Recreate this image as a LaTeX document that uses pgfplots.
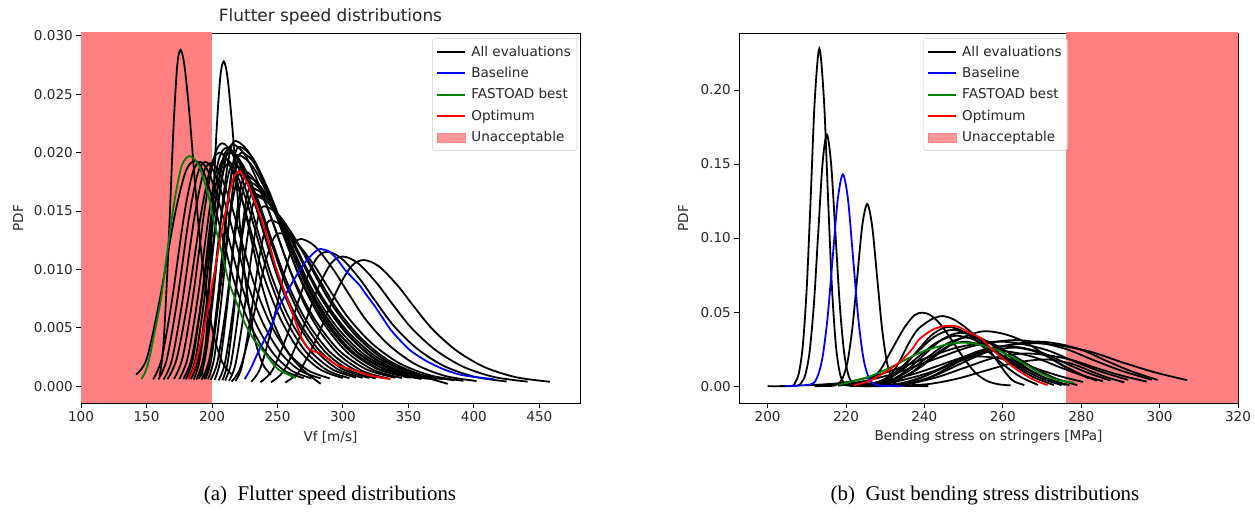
\documentclass[border=0pt]{standalone}
\usepackage{pgfplots}
\pgfplotsset{compat=1.18}
\usepackage{fontspec}
\setmainfont{DejaVu Sans}
\newfontfamily\capfont{Liberation Serif}
\definecolor{spanred}{RGB}{255,128,128}
\definecolor{mgreen}{RGB}{0,128,0}
\newcommand{\mplfont}{\fontsize{13.6}{16}\selectfont}
\pgfplotsset{
  pdfax/.style={
    scale only axis, width=499bp, height=370bp,
    axis line style={black, line width=0.9bp},
    tick pos=left, tick align=outside,
    major tick length=4.7bp,
    every tick/.style={black, line width=0.9bp},
    tick label style={font=\mplfont, text=black!85},
    /pgf/number format/assume math mode=true,
    scaled ticks=false,
    label style={font=\mplfont, text=black!85},
    legend style={font=\mplfont, text=black!85, draw=black!20, rounded corners=3bp, fill=white, fill opacity=0.8, text opacity=1, draw opacity=1, inner xsep=4bp, inner ysep=5.5bp, row sep=5.6bp, cells={anchor=west}, /tikz/every odd column/.append style={column sep=3bp}},
    legend cell align=left,
    legend image code/.code={\draw[##1, line width=2bp, sharp corners] (0bp,0bp) -- (28bp,0bp);},
    xlabel style={at={(axis description cs:0.5,-0.092)}, anchor=center},
    ylabel style={anchor=center},
  },
  ev/.style={black, line width=1.8bp, smooth, tension=0.5, forget plot},
}
\begin{document}
\begin{tikzpicture}
\path[use as bounding box] (0,0) rectangle (1255bp,515bp);
% ---------------- left panel ----------------
\begin{axis}[pdfax, at={(81bp,112bp)}, anchor=south west,
  xmin=100, xmax=481, ymin=-0.00144, ymax=0.03024,
  xtick={100,150,200,250,300,350,400,450},
  ytick={0,0.005,0.01,0.015,0.02,0.025,0.03},
  yticklabel style={/pgf/number format/.cd, fixed, fixed zerofill, precision=3},
  title={Flutter speed distributions},
  every axis title shift=0pt,
  title style={at={(axis description cs:0.5,1.043)}, anchor=center, yshift=0pt, font=\fontsize{17}{20}\selectfont, text=black!85},
  xlabel={Vf [m/s]}, ylabel={PDF},
  ylabel style={at={(axis description cs:-0.126,0.5)}},
  legend style={at={(0.994,0.986)}, anchor=north east},
]
\addplot[fill=spanred, draw=none, forget plot] coordinates {(100,-0.01) (200,-0.01) (200,0.04) (100,0.04)} -- cycle;
\addplot[ev] coordinates {(160,.00086) (162.9,.00346) (166.4,.01094) (170.4,.0216) (173.4,.02736) (176,.0288) (179.1,.02736) (183,.02304) (186.5,.01814) (190.4,.01296) (195.5,.00806) (201.4,.00432) (208,.00202) (215,.00101)};
\addplot[ev] coordinates {(192,.00083) (195.1,.00334) (198.8,.01056) (203,.02085) (206.3,.02641) (209,.0278) (211.9,.02641) (215.5,.02224) (218.7,.01751) (222.3,.01251) (227,.00778) (232.4,.00417) (238.5,.00195) (245,.00097)};
\addplot[ev] coordinates {(142,.0010) (150.1,.00232) (160,.00733) (171.3,.01448) (179.8,.01834) (187,.0193) (193.6,.01834) (201.9,.01544) (209.4,.01216) (217.7,.00869) (228.5,.0054) (241,.0029) (255.1,.00135) (270,.00068)};
\addplot[ev] coordinates {(155,.00058) (161.5,.0023) (169.4,.0073) (178.4,.0144) (185.2,.01824) (191,.0192) (197.8,.01824) (206.3,.01536) (214,.0121) (222.5,.00864) (233.5,.00538) (246.3,.00288) (260.7,.00134) (276,.00067)};
\addplot[ev] coordinates {(159,.00058) (165.5,.0023) (173.4,.0073) (182.4,.0144) (189.2,.01824) (195,.0192) (202,.01824) (210.8,.01536) (218.8,.0121) (227.6,.00864) (239,.00538) (252.2,.00288) (267.2,.00134) (283,.00067)};
\addplot[ev] coordinates {(163,.00057) (169.5,.00229) (177.4,.00726) (186.4,.01433) (193.2,.01815) (199,.0191) (206.3,.01815) (215.4,.01528) (223.6,.01203) (232.7,.0086) (244.5,.00535) (258.2,.00287) (273.6,.00134) (290,.00067)};
\addplot[ev] coordinates {(166,.0006) (173.2,.0024) (182,.0076) (192,.015) (199.6,.019) (206,.020) (213.5,.019) (222.9,.016) (231.4,.0126) (240.8,.009) (253,.0056) (267.1,.003) (283.1,.0014) (300,.0007)};
\addplot[ev] coordinates {(171,.00062) (177.7,.0025) (185.8,.0079) (195,.0156) (202.1,.01976) (208,.0208) (216.2,.01976) (226.4,.01664) (235.5,.0131) (245.7,.00936) (259,.00582) (274.3,.00312) (291.6,.00146) (310,.00073)};
\addplot[ev] coordinates {(175,.00061) (181.5,.00245) (189.4,.00775) (198.4,.0153) (205.2,.01938) (211,.0204) (219.7,.01938) (230.6,.01632) (240.4,.01285) (251.3,.00918) (265.5,.00571) (281.9,.00306) (300.4,.00143) (320,.00071)};
\addplot[ev] coordinates {(178,.0006) (184.5,.0024) (192.4,.0076) (201.4,.015) (208.2,.019) (214,.020) (223.3,.019) (234.9,.016) (245.3,.0126) (256.9,.009) (272,.0056) (289.4,.003) (309.1,.0014) (330,.0007)};
\addplot[ev] coordinates {(184,.00062) (189.8,.00248) (196.8,.00787) (204.8,.01553) (210.9,.01967) (216,.0207) (225.9,.01967) (238.3,.01656) (249.5,.01304) (261.9,.00932) (278,.0058) (296.6,.00311) (317.7,.00145) (340,.00072)};
\addplot[ev] coordinates {(190,.00063) (195,.00252) (201.2,.00798) (208.2,.01575) (213.5,.01995) (218,.021) (228.6,.01995) (241.8,.0168) (253.6,.01323) (266.8,.00945) (284,.00588) (303.8,.00315) (326.2,.00147) (350,.00074)};
\addplot[ev] coordinates {(194,.00059) (198.7,.00238) (204.4,.00752) (210.9,.01485) (215.8,.01881) (220,.0198) (231.1,.01881) (245,.01584) (257.5,.01247) (271.4,.00891) (289.5,.00554) (310.4,.00297) (334,.00139) (359,.00069)};
\addplot[ev] coordinates {(197,.0006) (201.7,.0024) (207.4,.0076) (213.9,.015) (218.8,.019) (223,.020) (232.8,.019) (245,.016) (255.9,.0126) (268.1,.009) (284,.0056) (302.3,.003) (323,.0014) (345,.0007)};
\addplot[ev] coordinates {(186,.00057) (190.7,.00228) (196.4,.00722) (202.9,.01425) (207.8,.01805) (212,.019) (217.7,.01805) (224.8,.0152) (231.2,.01197) (238.3,.00855) (247.5,.00532) (258.2,.00285) (270.2,.00133) (283,.0002)};
\addplot[ev] coordinates {(202,.00054) (206.3,.00216) (211.6,.00684) (217.6,.0135) (222.2,.0171) (226,.018) (237.1,.0171) (251,.0144) (263.5,.01134) (277.4,.0081) (295.5,.00504) (316.4,.0027) (340,.00126) (365,.00063)};
\addplot[ev] coordinates {(208,.00051) (212,.00204) (216.8,.00646) (222.3,.01275) (226.5,.01615) (230,.017) (241.7,.01615) (256.3,.0136) (269.4,.01071) (284,.00765) (303,.00476) (324.9,.00255) (349.7,.00119) (376,.0006)};
\addplot[ev] coordinates {(210,.00049) (214.5,.00194) (220,.00616) (226.3,.01215) (231,.01539) (235,.0162) (245.8,.01539) (259.3,.01296) (271.5,.01021) (285,.00729) (302.5,.00454) (322.8,.00243) (345.7,.00113) (370,.00057)};
\addplot[ev] coordinates {(213,.00046) (217.9,.00185) (223.8,.00585) (230.6,.01155) (235.7,.01463) (240,.0154) (251.2,.01463) (265.2,.01232) (277.8,.0097) (291.8,.00693) (310,.00431) (331,.00231) (354.8,.00108) (380,.0002)};
\addplot[ev] coordinates {(218,.00043) (222.9,.0017) (228.8,.0054) (235.6,.01065) (240.7,.01349) (245,.0142) (256.2,.01349) (270.2,.01136) (282.8,.00895) (296.8,.00639) (315,.00398) (336,.00213) (359.8,.00099) (385,.0005)};
\addplot[ev] coordinates {(180,.00059) (185.4,.00234) (192,.00741) (199.5,.01463) (205.2,.01853) (210,.0195) (217.6,.01853) (227.1,.0156) (235.7,.01229) (245.2,.00878) (257.5,.00546) (271.8,.00293) (287.9,.00137) (305,.00068)};
\addplot[ev] coordinates {(188,.00057) (193.2,.00228) (199.6,.00722) (206.9,.01425) (212.4,.01805) (217,.019) (225.6,.01805) (236.4,.0152) (246.2,.01197) (257,.00855) (271,.00532) (287.2,.00285) (305.6,.00133) (325,.00067)};
\addplot[ev] coordinates {(192,.00056) (197.8,.00222) (204.8,.00703) (212.8,.01388) (218.9,.01758) (224,.0185) (232.9,.01758) (244,.0148) (254,.01166) (265.1,.00833) (279.5,.00518) (296.2,.00278) (315,.0013) (335,.00065)};
\addplot[ev] coordinates {(182,.00061) (187.6,.00244) (194.4,.00771) (202.1,.01523) (208,.01929) (213,.0203) (221.2,.01929) (231.4,.01624) (240.5,.01279) (250.7,.00914) (264,.00568) (279.3,.00305) (296.6,.00142) (315,.00071)};
\addplot[ev] coordinates {(195,.00062) (199.7,.00246) (205.4,.00779) (211.9,.01538) (216.8,.01948) (221,.0205) (231.5,.01948) (244.6,.0164) (256.4,.01292) (269.5,.00923) (286.5,.00574) (306.2,.00308) (328.4,.00144) (352,.00072)};
\addplot[ev] coordinates {(199,.00053) (204.2,.0021) (210.6,.00665) (217.8,.01313) (223.4,.01663) (228,.0175) (238.6,.01663) (251.8,.014) (263.6,.01103) (276.8,.00788) (294,.0049) (313.8,.00263) (336.2,.00123) (360,.00061)};
\addplot[ev] coordinates {(205,.0005) (209.9,.00198) (215.8,.00627) (222.5,.01238) (227.7,.01568) (232,.0165) (243.2,.01568) (257.2,.0132) (269.8,.0104) (283.8,.00743) (302,.00462) (323,.00248) (346.8,.00116) (372,.00058)};
\addplot[ev] coordinates {(215,.00039) (221.7,.00157) (229.8,.00498) (239,.00983) (246.1,.01245) (252,.0131) (263.2,.01245) (277.2,.01048) (289.8,.00825) (303.8,.0059) (322,.00367) (343,.00197) (366.8,.00092) (392,.00046)};
\addplot[ev] coordinates {(230,.00038) (236.8,.00151) (245.2,.00479) (254.7,.00945) (261.9,.01197) (268,.0126) (278.7,.01197) (292.1,.01008) (304.2,.00794) (317.6,.00567) (335,.00353) (355.1,.00189) (377.9,.00088) (402,.00044)};
\addplot[ev] coordinates {(237,.00035) (246.2,.00138) (257.4,.00437) (270.1,.00863) (279.8,.01093) (288,.0115) (299,.01093) (312.7,.0092) (325,.00725) (338.7,.00518) (356.5,.00322) (377.1,.00173) (400.3,.00081) (425,.0004)};
\addplot[ev] coordinates {(245,.00033) (254.9,.00133) (267,.00422) (280.7,.00833) (291.2,.01055) (300,.0111) (311.3,.01055) (325.4,.00888) (338.1,.00699) (352.2,.005) (370.5,.00311) (391.7,.00167) (415.6,.00078) (441,.00039)};
\addplot[ev] coordinates {(256,.00032) (266.8,.0013) (280,.0041) (295,.0081) (306.4,.01026) (316,.0108) (327.4,.01026) (341.6,.00864) (354.3,.0068) (368.5,.00486) (387,.00302) (408.3,.00162) (432.4,.00076) (458,.00038)};
\addplot[blue, line width=1.8bp, smooth, tension=0.5, forget plot] coordinates {(225,0.0006) (230,0.0016) (236,0.0031) (243,0.0046) (250,0.0065) (256,0.0078) (262,0.009) (268,0.0101) (274,0.011) (281,0.0117) (285,0.0117) (290,0.0115) (296,0.0108) (302,0.0099) (308,0.0092) (313,0.0086) (318,0.0078) (324,0.0069) (330,0.0059) (336,0.0049) (343,0.004) (351,0.0031) (360,0.0024) (368,0.0019) (378,0.0014) (389,0.001) (400,0.0008) (415,0.0006)};
\addplot[mgreen, line width=1.8bp, smooth, tension=0.5, forget plot] coordinates {(146,0.0006) (149,0.0012) (152,0.0023) (156,0.0045) (161,0.0074) (165,0.0108) (170,0.0149) (174,0.0175) (177,0.0189) (180,0.0195) (183,0.0197) (186,0.0195) (190,0.0189) (194,0.0176) (198,0.016) (201,0.0143) (205,0.0126) (209,0.0107) (213,0.0089) (219,0.0071) (225,0.0054) (232,0.004) (240,0.0029) (246,0.002) (251,0.0014) (258,0.001) (264,0.0007)};
\addplot[red, line width=1.8bp, smooth, tension=0.5, forget plot] coordinates {(182.2,0.0006) (185.7,0.0014) (190,0.0031) (195.9,0.006) (201.8,0.0097) (207.6,0.0134) (213.5,0.0166) (217,0.018) (220.8,0.0184) (224,0.018) (228,0.0171) (232,0.016) (236.8,0.0146) (242.7,0.0126) (248.5,0.0103) (255.8,0.008) (263.2,0.0057) (269,0.004) (274.9,0.0031) (280.7,0.0029) (288,0.0024) (293.9,0.0019) (301.2,0.0016) (310,0.0013) (321.6,0.0009) (336.3,0.0006)};
\addlegendimage{black}\addlegendentry{All evaluations}
\addlegendimage{blue}\addlegendentry{Baseline}
\addlegendimage{mgreen}\addlegendentry{FASTOAD best}
\addlegendimage{red}\addlegendentry{Optimum}
\addlegendimage{legend image code/.code={\fill[spanred, sharp corners] (0bp,-4.5bp) rectangle (28bp,4.5bp);}}\addlegendentry{Unacceptable}
\end{axis}
% ---------------- right panel ----------------
\begin{axis}[pdfax, at={(739bp,112bp)}, anchor=south west,
  xmin=192.7, xmax=320, ymin=-0.0114, ymax=0.2385,
  xtick={200,220,240,260,280,300,320},
  ytick={0,0.05,0.1,0.15,0.2},
  yticklabel style={/pgf/number format/.cd, fixed, fixed zerofill, precision=2},
  xlabel={Bending stress on stringers [MPa]}, ylabel={PDF},
  ylabel style={at={(axis description cs:-0.112,0.5)}},
  legend style={at={(0.659,0.986)}, anchor=north east},
]
\addplot[fill=spanred, draw=none, forget plot] coordinates {(276,-0.05) (330,-0.05) (330,0.3) (276,0.3)} -- cycle;
\addplot[ev] coordinates {(200,0) (206,0) (207,0.0024) (208,0.0091) (209,0.0279) (210,0.0673) (211,0.128) (212,0.192) (213.2,0.228) (214.4,0.192) (215.4,0.128) (216.4,0.0673) (217.4,0.0279) (218.4,0.0091) (219.4,0.0024) (221,0.0002) (230,0)};
\addplot[ev] coordinates {(203,0) (207.5,0.0003) (208.5,0.0019) (209.6,0.0075) (210.7,0.023) (211.8,0.0552) (212.9,0.1031) (214,0.150) (215.1,0.170) (216.2,0.150) (217.3,0.1031) (218.4,0.0552) (219.5,0.023) (220.6,0.0075) (221.7,0.0019) (223,0.0002) (226,0)};
\addplot[ev] coordinates {(212,0) (216.5,0.0002) (217.9,0.0014) (219.15,0.0054) (220.4,0.0166) (221.65,0.0399) (222.9,0.0746) (224.15,0.1085) (225.4,0.123) (226.65,0.1085) (227.9,0.0746) (229.15,0.0399) (230.4,0.0166) (231.65,0.0054) (232.9,0.0014) (234.5,0.0002) (241,0)};
\addplot[ev] coordinates {(218,0.0005) (225,0.003) (228.4,0.0097) (230.5,0.019) (232.6,0.029) (235,0.04) (237.5,0.048) (239.5,0.0496) (241.5,0.048) (244,0.042) (247,0.031) (250,0.019) (253,0.009) (256,0.0035) (259,0.0012) (262,0.0005)};
\addplot[ev] coordinates {(222,0.0005) (227,0.002) (230.9,0.0063) (233.5,0.016) (236,0.029) (238.2,0.038) (240.2,0.0424) (242.5,0.046) (244.8,0.0473) (247.5,0.045) (250.3,0.040) (253,0.034) (255.4,0.0289) (257.5,0.021) (259.6,0.013) (261.5,0.0065) (263,0.003) (265.5,0.0007)};
\addplot[ev] coordinates {(224,.00076) (228.6,.00304) (233.2,.01064) (237.8,.02204) (242.4,.03306) (247,.038) (252.2,.0342) (257.4,.0247) (262.6,.01444) (267.8,.00608) (273,.00076)};
\addplot[ev] coordinates {(226,.00072) (230.6,.00288) (235.2,.01008) (239.8,.02088) (244.4,.03132) (249,.036) (254.4,.0324) (259.8,.0234) (265.2,.01368) (270.6,.00576) (276,.00072)};
\addplot[ev] coordinates {(225,.00066) (230.2,.00264) (235.4,.00924) (240.6,.01914) (245.8,.02871) (251,.033) (256.6,.0297) (262.2,.02145) (267.8,.01254) (273.4,.00528) (279,.00066)};
\addplot[ev] coordinates {(226,.0008) (230,.0032) (234,.0112) (238,.0232) (242,.0348) (246,.040) (250.6,.036) (255.2,.026) (259.8,.0152) (264.4,.0064) (269,.0008)};
\addplot[ev] coordinates {(224,.00068) (228.8,.00272) (233.6,.00952) (238.4,.01972) (243.2,.02958) (248,.034) (253.4,.0306) (258.8,.0221) (264.2,.01292) (269.6,.00544) (275,.00068)};
\addplot[ev] coordinates {(227,.0006) (231.6,.0024) (236.2,.0084) (240.8,.0174) (245.4,.0261) (250,.030) (255.4,.027) (260.8,.0195) (266.2,.0114) (271.6,.0048) (277,.0006)};
\addplot[ev] coordinates {(230,.00052) (236.4,.00208) (242.8,.00728) (249.2,.01508) (255.6,.02262) (262,.026) (266.4,.0247) (270.8,.0208) (275.2,.0143) (279.6,.00832) (284,.00364)};
\addplot[ev] coordinates {(210,.0006) (219.6,.0024) (229.2,.0084) (238.8,.0174) (248.4,.0261) (258,.030) (264.8,.0285) (271.6,.024) (278.4,.0165) (285.2,.0096) (292,.0042)};
\addplot[ev] coordinates {(213,.00062) (222.8,.00248) (232.6,.00868) (242.4,.01798) (252.2,.02697) (262,.031) (269.2,.02945) (276.4,.0248) (283.6,.01705) (290.8,.00992) (298,.00434)};
\addplot[ev] coordinates {(218,.00058) (227.6,.00232) (237.2,.00812) (246.8,.01682) (256.4,.02523) (266,.029) (274.2,.02755) (282.4,.0232) (290.6,.01595) (298.8,.00928) (307,.00406)};
\addplot[ev] coordinates {(222,.0006) (231.2,.0024) (240.4,.0084) (249.6,.0174) (258.8,.0261) (268,.030) (274.3,.0285) (280.6,.024) (286.9,.0165) (293.2,.0096) (299.5,.0042)};
\addplot[ev] coordinates {(226,.00074) (231.8,.00296) (237.6,.01036) (243.4,.02146) (249.2,.03219) (255,.037) (260.4,.03515) (265.8,.0296) (271.2,.02035) (276.6,.01184) (282,.00518)};
\addplot[ev] coordinates {(228,.00054) (234.4,.00216) (240.8,.00756) (247.2,.01566) (253.6,.02349) (260,.027) (265.5,.02565) (271,.0216) (276.5,.01485) (282,.00864) (287.5,.00378)};
\addplot[ev] coordinates {(230,.0004) (234.6,.0016) (239.2,.0056) (243.8,.0116) (248.4,.0174) (253,.020) (258.5,.019) (264,.016) (269.5,.011) (275,.0064) (280.5,.0028)};
\addplot[ev] coordinates {(232,.00048) (237,.00192) (242,.00672) (247,.01392) (252,.02088) (257,.024) (262.7,.0228) (268.4,.0192) (274.1,.0132) (279.8,.00768) (285.5,.00336)};
\addplot[ev] coordinates {(229,.00044) (236.2,.00176) (243.4,.00616) (250.6,.01276) (257.8,.01914) (265,.022) (271.3,.0209) (277.7,.0176) (284,.0121) (290.4,.00704) (296.7,.00308)};
\addplot[ev] coordinates {(234,.00036) (241.2,.00144) (248.4,.00504) (255.6,.01044) (262.8,.01566) (270,.018) (274.2,.0171) (278.4,.0144) (282.6,.0099) (286.8,.00576) (291,.00252)};
\addplot[blue, line width=1.8bp, smooth, tension=0.5, forget plot] coordinates {(204.5,0) (211,0.0012) (212.7,0.0063) (214,0.0194) (215.3,0.0464) (216.6,0.0867) (217.9,0.1262) (219.2,0.143) (220.5,0.1262) (221.8,0.0867) (223.1,0.0464) (224.4,0.0194) (225.7,0.0063) (227,0.0016) (229,0.0002) (234,0)};
\addplot[mgreen, line width=1.8bp, smooth, tension=0.5, forget plot] coordinates {(218.3,0.0009) (222,0.0035) (225.8,0.0063) (229,0.0098) (232.6,0.0142) (235.5,0.0183) (238.5,0.0221) (241,0.0248) (243.5,0.0266) (246,0.0283) (248.6,0.0293) (251,0.0292) (253.7,0.0282) (256,0.0265) (258.7,0.0243) (261,0.0212) (263.8,0.0176) (266.5,0.0135) (268.9,0.0097) (271.5,0.0066) (273.9,0.0041) (278.2,0.0023)};
\addplot[red, line width=1.8bp, smooth, tension=0.5, forget plot] coordinates {(222,0.0007) (226,0.0035) (230.1,0.0097) (233,0.0148) (235.1,0.0198) (237,0.0255) (238.5,0.0311) (240.3,0.035) (241.9,0.0378) (243.5,0.0396) (245.2,0.0406) (247.8,0.0406) (249.5,0.039) (251.1,0.0367) (254.5,0.0322) (257,0.0255) (260.4,0.0176) (263.8,0.0108) (267.2,0.0052) (269.5,0.0025) (271.4,0.0007)};
\addlegendimage{black}\addlegendentry{All evaluations}
\addlegendimage{blue}\addlegendentry{Baseline}
\addlegendimage{mgreen}\addlegendentry{FASTOAD best}
\addlegendimage{red}\addlegendentry{Optimum}
\addlegendimage{legend image code/.code={\fill[spanred, sharp corners] (0bp,-4.5bp) rectangle (28bp,4.5bp);}}\addlegendentry{Unacceptable}
\end{axis}
\node[font=\capfont\fontsize{21}{24}\selectfont] at (330bp,20bp) {(a)\enspace Flutter speed distributions};
\node[font=\capfont\fontsize{21}{24}\selectfont] at (985bp,20bp) {(b)\enspace Gust bending stress distributions};
\end{tikzpicture}
\end{document}
